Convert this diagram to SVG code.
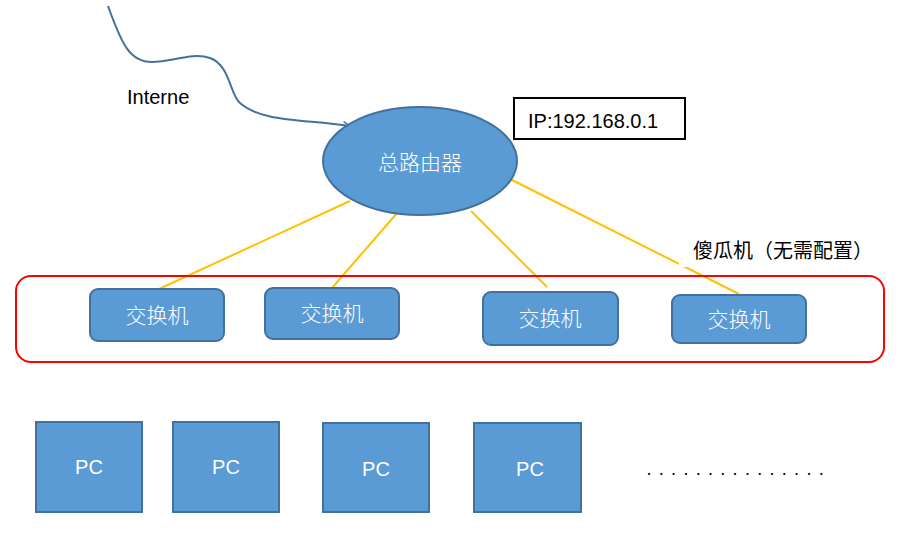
<svg xmlns="http://www.w3.org/2000/svg" width="920" height="556" viewBox="0 0 920 556">
<defs>
<style>
.node{fill:#5B9BD5;stroke:#41719C;stroke-width:2}
.cjk{font-family:"Noto Sans CJK SC","Noto Sans",sans-serif;font-size:21px;font-weight:300;fill:#fff;text-anchor:middle}
.pc{font-family:"Liberation Sans",Arial,sans-serif;font-size:20px;fill:#fff;text-anchor:middle}
.lbl{font-family:"Liberation Sans",Arial,sans-serif;font-size:20px;fill:#000}
.link{stroke:#FFC000;stroke-width:2;fill:none}
</style>
<marker id="arr" markerWidth="10" markerHeight="10" refX="8" refY="5" orient="auto" markerUnits="userSpaceOnUse">
<path d="M1,1.5 L8,5 L1,8.5" fill="none" stroke="#41719C" stroke-width="1.5"/>
</marker>
</defs>
<rect width="920" height="556" fill="#fff"/>
<g id="connectors">
<path d="M108,6 C122,45 130,62 152,62 C172,62 192,52 210,58 C230,65 230,95 240,103 C262,122 300,119 350,126" fill="none" stroke="#41719C" stroke-width="2" marker-end="url(#arr)"/>
<line class="link" x1="350" y1="201" x2="159" y2="289"/>
<line class="link" x1="398" y1="212" x2="332" y2="288"/>
<line class="link" x1="471" y1="211" x2="547" y2="287"/>
<line class="link" x1="510" y1="179" x2="739" y2="294"/>
</g>
<g id="internet-label">
<text class="lbl" x="127" y="104">Interne</text>
</g>
<g id="router">
<ellipse class="node" cx="420" cy="161" rx="97" ry="54"/>
<text class="cjk" x="420" y="170">总路由器</text>
</g>
<g id="ip-box">
<rect x="514" y="98" width="171" height="41" fill="#fff" stroke="#000" stroke-width="2"/>
<text class="lbl" x="528" y="128">IP:192.168.0.1</text>
</g>
<g id="group-label">
<rect x="679" y="236" width="198" height="31" fill="#fff"/>
<text x="693" y="258" font-family="'Noto Sans CJK SC','Noto Sans',sans-serif" font-size="20" fill="#000">傻瓜机（无需配置）</text>
</g>
<g id="switch-group">
<rect x="16" y="276" width="868" height="86" rx="15" fill="none" stroke="#FF0000" stroke-width="2"/>
</g>
<g id="switch1">
<rect class="node" x="90" y="289" width="134" height="52" rx="8"/>
<text class="cjk" x="157" y="323">交换机</text>
</g>
<g id="switch2">
<rect class="node" x="265" y="288" width="134" height="51" rx="8"/>
<text class="cjk" x="332" y="321">交换机</text>
</g>
<g id="switch3">
<rect class="node" x="483" y="292" width="135" height="53" rx="8"/>
<text class="cjk" x="550" y="326">交换机</text>
</g>
<g id="switch4">
<rect class="node" x="672" y="295" width="134" height="48" rx="8"/>
<text class="cjk" x="739" y="327">交换机</text>
</g>
<g id="pc1">
<rect class="node" x="36" y="422" width="106" height="90"/>
<text class="pc" x="89" y="474">PC</text>
</g>
<g id="pc2">
<rect class="node" x="173" y="422" width="106" height="90"/>
<text class="pc" x="226" y="474">PC</text>
</g>
<g id="pc3">
<rect class="node" x="323" y="423" width="106" height="89"/>
<text class="pc" x="376" y="476">PC</text>
</g>
<g id="pc4">
<rect class="node" x="474" y="423" width="107" height="89"/>
<text class="pc" x="530" y="476">PC</text>
</g>
<g id="more">
<text x="646.5" y="474.5" font-family="'Liberation Sans',Arial,sans-serif" font-size="18" letter-spacing="7.3" fill="#000">...............</text>
</g>
</svg>
